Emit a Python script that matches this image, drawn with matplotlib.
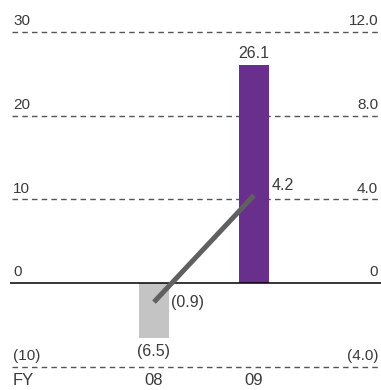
import matplotlib
matplotlib.use("Agg")
import matplotlib.pyplot as plt

plt.rcParams['font.family'] = ['Liberation Sans', 'DejaVu Sans']

years = ["08", "09"]
bar_values = [-6.5, 26.1]
bar_labels = ["(6.5)", "26.1"]
bar_colors = ["#c3c4c3", "#68308c"]
line_values = [-0.9, 4.2]
line_labels = ["(0.9)", "4.2"]
left_ticks = [30, 20, 10, 0, -10]
left_tick_labels = ["30", "20", "10", "0", "(10)"]
right_tick_labels = ["12.0", "8.0", "4.0", "0", "(4.0)"]

txt = "#3a3a3a"

fig = plt.figure(figsize=(3.81, 3.90), dpi=100)
ax = fig.add_axes([0, 0, 1, 1])
ax.set_xlim(-0.54, 3.27)
ax.set_ylim(-12.75, 33.82)
ax.axis("off")

ax2 = ax.twinx()
ax2.set_ylim(-12.75 / 2.5, 33.82 / 2.5)
ax2.axis("off")

xs = [1, 2]

# grid
for t, ll, rl in zip(left_ticks, left_tick_labels, right_tick_labels):
	if t == 0:
		ax.hlines(0, -0.44, 3.27, color="black", lw=1.1, zorder=3)
	else:
		ax.hlines(t, -0.42, 3.27, color="#555555", lw=1.0, linestyles=(0, (4, 3)), zorder=1)
	ax.text(-0.41, t + 0.45, ll, ha="left", va="bottom", fontsize=11, color=txt)
	ax.text(3.24, t + 0.45, rl, ha="right", va="bottom", fontsize=11, color=txt)

ax.bar(xs, bar_values, width=0.3, color=bar_colors, zorder=2)
ax.text(xs[0], bar_values[0] - 0.8, bar_labels[0], ha="center", va="top", fontsize=11.5, color=txt)
ax.text(xs[1], bar_values[1] + 0.4, bar_labels[1], ha="center", va="bottom", fontsize=11.5, color=txt)

ax2.plot(xs, line_values, color="#606060", lw=3.6, solid_capstyle="butt", zorder=4)
ax2.text(xs[0] + 0.17, line_values[0], line_labels[0], ha="left", va="center", fontsize=11.5, color=txt)
ax2.text(xs[1] + 0.18, line_values[1] + 0.45, line_labels[1], ha="left", va="center", fontsize=11.5, color=txt)

ax.text(-0.41, -11.6, "FY", ha="left", va="center", fontsize=12, color=txt)
for x, y in zip(xs, years):
	ax.text(x, -11.6, y, ha="center", va="center", fontsize=12, color=txt)

fig.savefig("out.png", dpi=100)
